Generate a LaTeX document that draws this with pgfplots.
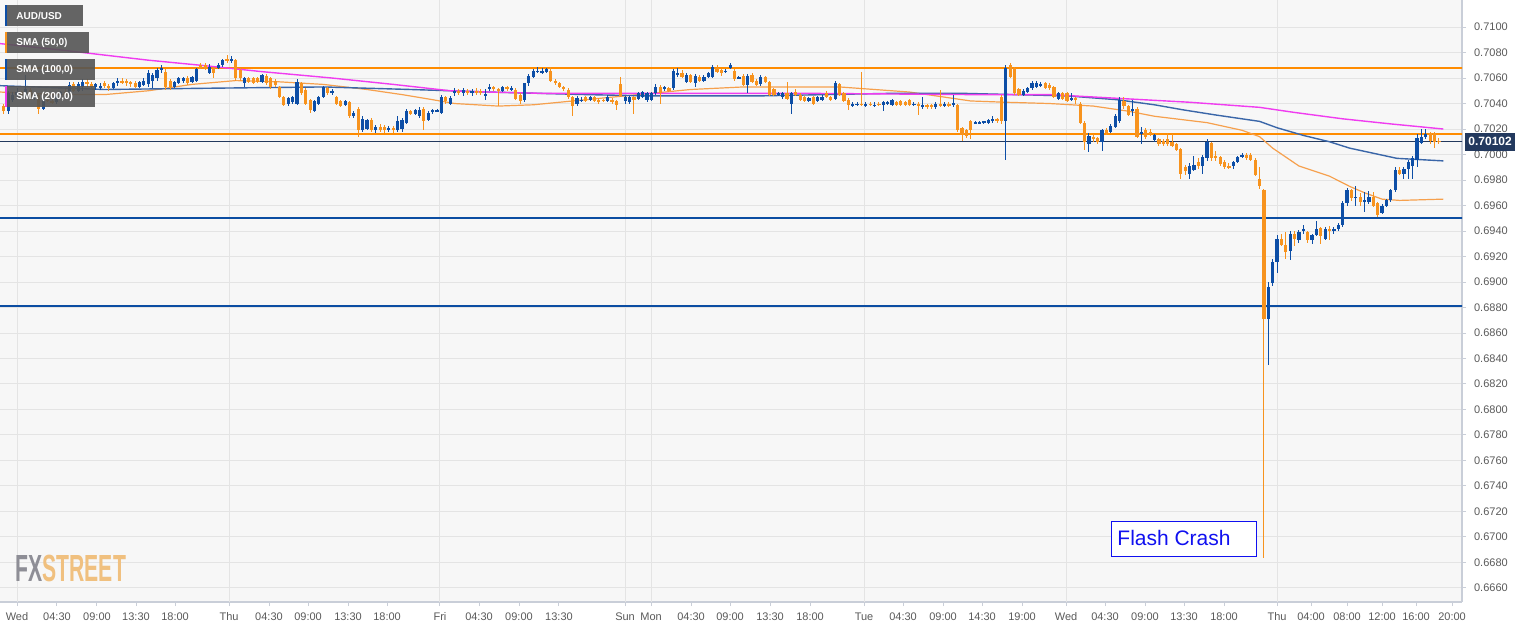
\documentclass[border=0pt]{standalone}
\usepackage{pgfplots}
\pgfplotsset{compat=1.18}
\usepackage{pgfplotstable}
\usepackage{fontspec}
\setmainfont{Liberation Sans}
\setsansfont{Liberation Sans}

\definecolor{upc}{HTML}{0D4EA6}
\definecolor{dnc}{HTML}{F7931E}
\definecolor{smafifty}{HTML}{F6A04D}
\definecolor{smahund}{HTML}{3A66A8}
\definecolor{smatwo}{HTML}{F03CF0}
\definecolor{lvlorange}{HTML}{FF8C00}
\definecolor{lvlblue}{HTML}{0B4DA2}
\definecolor{lastnavy}{HTML}{23395E}
\definecolor{gridc}{HTML}{E4E4E4}
\definecolor{plotbg}{HTML}{F7F7F7}
\definecolor{axisc}{HTML}{C9CED8}
\definecolor{labc}{HTML}{5A5A5A}
\definecolor{boxgrey}{HTML}{555555}
\definecolor{fxgrey}{HTML}{8E8E96}
\definecolor{fxorange}{HTML}{F0C07F}
\definecolor{fcblue}{HTML}{1010F0}

% 30-minute candles, x = trading hours from Wed 00:00
\pgfplotstableread{
x o h l c
-1.5 .7038 .7040 .7032 .7034
-1.0 .7034 .7050 .7032 .7048
-0.5 .7043 .7049 .7041 .7047
0.0 .7047 .7052 .7045 .7049
0.5 .7049 .7050 .7045 .7047
1.0 .7047 .7062 .7046 .7051
1.5 .7051 .7052 .7043 .7045
2.0 .7045 .7049 .7043 .7047
2.5 .7047 .7048 .7032 .7036
3.0 .7036 .7045 .7035 .7043
3.5 .7043 .7046 .7041 .7042
4.0 .7042 .7045 .7040 .7041
4.5 .7041 .7048 .7040 .7047
5.0 .7047 .7050 .7045 .7049
5.5 .7049 .7051 .7046 .7048
6.0 .7048 .7057 .7047 .7055
6.5 .7055 .7057 .7049 .7050
7.0 .7050 .7057 .7049 .7055
7.5 .7053 .7059 .7050 .7057
8.0 .7057 .7059 .7053 .7055
8.5 .7055 .7057 .7052 .7053
9.0 .7053 .7056 .7051 .7055
9.5 .7052 .7056 .7051 .7054
10.0 .7056 .7058 .7052 .7054
10.5 .7054 .7055 .7050 .7052
11.0 .7052 .7057 .7051 .7056
11.5 .7056 .7060 .7054 .7058
12.0 .7058 .7060 .7055 .7056
12.5 .7058 .7059 .7054 .7056
13.0 .7057 .7058 .7053 .7055
13.5 .7056 .7058 .7052 .7053
14.0 .7053 .7058 .7052 .7057
14.5 .7055 .7060 .7054 .7058
15.0 .7055 .7066 .7053 .7064
15.5 .7058 .7064 .7052 .7062
16.0 .7060 .7068 .7058 .7066
16.5 .7066 .7070 .7064 .7068
17.0 .7065 .7067 .7051 .7053
17.5 .7058 .7059 .7051 .7053
18.0 .7053 .7058 .7052 .7057
18.5 .7056 .7061 .7055 .7060
19.0 .7058 .7061 .7056 .7060
19.5 .7060 .7062 .7055 .7056
20.0 .7057 .7062 .7056 .7061
20.5 .7058 .7068 .7057 .7067
21.0 .7070 .7072 .7067 .7068
21.5 .7070 .7072 .7066 .7067
22.0 .7064 .7071 .7063 .7069
22.5 .7068 .7069 .7060 .7064
23.0 .7068 .7072 .7067 .7070
23.5 .7070 .7075 .7069 .7074
24.0 .7075 .7078 .7072 .7073
24.5 .7073 .7077 .7072 .7075
25.0 .7074 .7075 .7058 .7060
25.5 .7066 .7067 .7058 .7060
26.0 .7056 .7061 .7053 .7060
26.5 .7060 .7061 .7056 .7057
27.0 .7060 .7061 .7055 .7056
27.5 .7060 .7061 .7056 .7057
28.0 .7057 .7063 .7056 .7062
28.5 .7062 .7063 .7055 .7056
29.0 .7060 .7061 .7051 .7053
29.5 .7058 .7059 .7053 .7055
30.0 .7053 .7054 .7044 .7045
30.5 .7045 .7046 .7038 .7039
31.0 .7040 .7045 .7038 .7044
31.5 .7041 .7046 .7040 .7045
32.0 .7040 .7059 .7039 .7057
32.5 .7056 .7057 .7047 .7048
33.0 .7051 .7052 .7039 .7040
33.5 .7043 .7044 .7033 .7035
34.0 .7034 .7043 .7033 .7042
34.5 .7040 .7046 .7039 .7045
35.0 .7045 .7054 .7044 .7053
35.5 .7052 .7053 .7047 .7048
36.0 .7048 .7051 .7047 .7050
36.5 .7045 .7046 .7039 .7040
37.0 .7042 .7043 .7037 .7038
37.5 .7039 .7043 .7038 .7042
38.0 .7041 .7042 .7029 .7030
38.5 .7030 .7034 .7029 .7033
39.0 .7036 .7037 .7014 .7019
39.5 .7019 .7030 .7018 .7028
40.0 .7020 .7028 .7019 .7027
40.5 .7027 .7029 .7018 .7019
41.0 .7019 .7023 .7017 .7022
41.5 .7022 .7024 .7018 .7019
42.0 .7022 .7023 .7017 .7019
42.5 .7020 .7022 .7018 .7021
43.0 .7021 .7022 .7017 .7019
43.5 .7019 .7030 .7018 .7026
44.0 .7020 .7029 .7018 .7027
44.5 .7025 .7036 .7024 .7034
45.0 .7034 .7035 .7031 .7032
45.5 .7032 .7036 .7031 .7035
46.0 .7030 .7037 .7029 .7035
46.5 .7036 .7037 .7019 .7026
47.0 .7027 .7034 .7026 .7033
47.5 .7033 .7036 .7032 .7035
48.0 .7034 .7036 .7033 .7035
48.5 .7033 .7047 .7032 .7045
49.0 .7045 .7046 .7040 .7042
49.5 .7040 .7046 .7039 .7044
50.0 .7048 .7052 .7046 .7050
50.5 .7050 .7051 .7047 .7048
51.0 .7048 .7052 .7046 .7051
51.5 .7050 .7051 .7047 .7048
52.0 .7048 .7051 .7046 .7050
52.5 .7050 .7052 .7047 .7048
53.0 .7050 .7051 .7047 .7048
53.5 .7047 .7051 .7043 .7047
54.0 .7051 .7055 .7050 .7053
54.5 .7053 .7054 .7050 .7051
55.0 .7051 .7052 .7038 .7050
55.5 .7050 .7054 .7049 .7053
56.0 .7053 .7054 .7050 .7051
56.5 .7051 .7054 .7050 .7052
57.0 .7051 .7052 .7043 .7044
57.5 .7047 .7048 .7040 .7042
58.0 .7043 .7056 .7041 .7056
58.5 .7056 .7063 .7054 .7062
59.0 .7061 .7067 .7060 .7066
59.5 .7065 .7069 .7064 .7066
60.0 .7065 .7068 .7063 .7065
60.5 .7065 .7068 .7064 .7067
61.0 .7066 .7069 .7057 .7058
61.5 .7058 .7059 .7055 .7056
62.0 .7056 .7057 .7052 .7053
62.5 .7053 .7054 .7050 .7051
63.0 .7051 .7052 .7044 .7045
63.5 .7045 .7046 .7030 .7038
64.0 .7040 .7046 .7038 .7044
64.5 .7042 .7045 .7041 .7043
65.0 .7045 .7046 .7041 .7042
65.5 .7043 .7046 .7042 .7045
66.0 .7045 .7046 .7041 .7042
66.5 .7043 .7044 .7040 .7041
67.0 .7043 .7044 .7041 .7042
67.5 .7042 .7047 .7041 .7045
68.0 .7043 .7044 .7040 .7041
68.5 .7042 .7043 .7035 .7039
69.0 .7055 .7061 .7045 .7046
69.5 .7042 .7046 .7040 .7045
70.0 .7041 .7046 .7040 .7045
70.5 .7045 .7046 .7032 .7043
71.0 .7044 .7049 .7043 .7048
71.5 .7045 .7050 .7044 .7049
72.0 .7043 .7049 .7041 .7048
72.5 .7043 .7049 .7042 .7048
73.0 .7048 .7055 .7047 .7053
73.5 .7053 .7055 .7040 .7048
74.0 .7051 .7054 .7050 .7053
74.5 .7052 .7053 .7049 .7050
75.0 .7052 .7067 .7051 .7066
75.5 .7062 .7068 .7061 .7064
76.0 .7064 .7066 .7060 .7061
76.5 .7057 .7064 .7056 .7062
77.0 .7062 .7063 .7056 .7057
77.5 .7056 .7063 .7053 .7062
78.0 .7061 .7062 .7057 .7058
78.5 .7058 .7062 .7057 .7061
79.0 .7061 .7065 .7060 .7064
79.5 .7061 .7070 .7060 .7069
80.0 .7068 .7070 .7064 .7065
80.5 .7066 .7067 .7062 .7064
81.0 .7065 .7067 .7064 .7066
81.5 .7068 .7072 .7067 .7070
82.0 .7066 .7067 .7058 .7059
82.5 .7060 .7062 .7059 .7061
83.0 .7062 .7063 .7054 .7055
83.5 .7055 .7063 .7048 .7062
84.0 .7062 .7064 .7056 .7057
84.5 .7058 .7059 .7054 .7055
85.0 .7055 .7062 .7054 .7061
85.5 .7061 .7062 .7056 .7057
86.0 .7057 .7058 .7046 .7047
86.5 .7051 .7052 .7046 .7047
87.0 .7047 .7049 .7046 .7048
87.5 .7045 .7049 .7044 .7048
88.0 .7048 .7057 .7043 .7044
88.5 .7040 .7049 .7032 .7048
89.0 .7049 .7051 .7046 .7047
89.5 .7047 .7048 .7042 .7043
90.0 .7045 .7046 .7041 .7042
90.5 .7042 .7045 .7041 .7044
91.0 .7045 .7046 .7039 .7040
91.5 .7042 .7046 .7041 .7045
92.0 .7043 .7047 .7042 .7045
92.5 .7048 .7050 .7044 .7045
93.0 .7045 .7046 .7042 .7043
93.5 .7044 .7058 .7043 .7056
94.0 .7055 .7056 .7046 .7047
94.5 .7048 .7049 .7041 .7042
95.0 .7043 .7044 .7035 .7039
95.5 .7038 .7041 .7037 .7040
96.0 .7039 .7041 .7038 .7040
96.5 .7040 .7065 .7038 .7039
97.0 .7038 .7041 .7037 .7040
97.5 .7040 .7041 .7038 .7039
98.0 .7039 .7041 .7037 .7039
98.5 .7040 .7041 .7038 .7039
99.0 .7039 .7042 .7034 .7041
99.5 .7040 .7042 .7039 .7041
100.0 .7039 .7044 .7038 .7043
100.5 .7041 .7042 .7038 .7039
101.0 .7042 .7043 .7038 .7039
101.5 .7041 .7042 .7038 .7039
102.0 .7043 .7044 .7038 .7039
102.5 .7039 .7041 .7038 .7040
103.0 .7040 .7041 .7031 .7038
103.5 .7037 .7045 .7036 .7039
104.0 .7039 .7040 .7036 .7037
104.5 .7039 .7040 .7036 .7037
105.0 .7037 .7041 .7036 .7040
105.5 .7040 .7051 .7037 .7038
106.0 .7038 .7041 .7037 .7040
106.5 .7040 .7041 .7037 .7038
107.0 .7040 .7047 .7037 .7040
107.5 .7039 .7040 .7018 .7019
108.0 .7021 .7022 .7011 .7015
108.5 .7019 .7020 .7013 .7015
109.0 .7026 .7027 .7012 .7019
109.5 .7025 .7026 .7024 .7025
110.0 .7025 .7026 .7024 .7025
110.5 .7025 .7026 .7024 .7026
111.0 .7025 .7028 .7024 .7027
111.5 .7026 .7030 .7025 .7028
112.0 .7028 .7029 .7025 .7026
112.5 .7045 .7047 .7024 .7026
113.0 .7026 .7070 .6996 .7068
113.5 .7070 .7072 .7060 .7061
114.0 .7068 .7069 .7047 .7048
114.5 .7051 .7052 .7046 .7047
115.0 .7047 .7051 .7046 .7050
115.5 .7049 .7053 .7048 .7052
116.0 .7052 .7058 .7051 .7056
116.5 .7053 .7058 .7052 .7056
117.0 .7055 .7057 .7053 .7055
117.5 .7056 .7057 .7051 .7052
118.0 .7055 .7056 .7051 .7052
118.5 .7053 .7054 .7044 .7045
119.0 .7044 .7049 .7043 .7048
119.5 .7048 .7049 .7043 .7044
120.0 .7048 .7049 .7041 .7042
120.5 .7043 .7048 .7042 .7044
121.0 .7044 .7045 .7040 .7043
121.5 .7040 .7041 .7024 .7025
122.0 .7025 .7026 .7004 .7010
122.5 .7008 .7017 .7002 .7015
123.0 .7014 .7016 .7010 .7012
123.5 .7013 .7014 .7008 .7010
124.0 .7010 .7020 .7003 .7019
124.5 .7019 .7021 .7015 .7017
125.0 .7018 .7024 .7017 .7022
125.5 .7022 .7032 .7021 .7030
126.0 .7026 .7045 .7025 .7043
126.5 .7042 .7045 .7036 .7038
127.0 .7038 .7039 .7030 .7031
127.5 .7034 .7043 .7030 .7036
128.0 .7036 .7037 .7013 .7014
128.5 .7016 .7022 .7008 .7018
129.0 .7019 .7021 .7012 .7014
129.5 .7018 .7020 .7015 .7016
130.0 .7011 .7016 .7010 .7015
130.5 .7012 .7013 .7007 .7008
131.0 .7011 .7012 .7007 .7008
131.5 .7012 .7017 .7007 .7008
132.0 .7010 .7016 .7006 .7007
132.5 .7008 .7009 .7003 .7004
133.0 .7004 .7005 .6981 .6985
133.5 .6990 .6992 .6984 .6987
134.0 .6985 .6993 .6981 .6991
134.5 .6988 .6999 .6987 .6992
135.0 .6994 .6997 .6989 .6991
135.5 .6991 .7000 .6985 .6998
136.0 .6997 .7012 .6995 .7010
136.5 .7009 .7010 .6995 .6997
137.0 .6999 .7003 .6995 .6998
137.5 .6998 .6999 .6991 .6993
138.0 .6994 .6996 .6989 .6990
138.5 .6991 .6993 .6989 .6990
139.0 .6991 .6995 .6989 .6994
139.5 .6994 .6999 .6993 .6998
140.0 .6998 .7001 .6997 .7000
140.5 .7000 .7001 .6996 .6997
141.0 .7000 .7001 .6995 .6996
141.5 .6996 .6997 .6983 .6984
142.0 .6981 .6990 .6973 .6975
142.5 .6972 .6973 .66835 .6871
143.0 .6871 .6900 .6835 .6896
143.5 .6899 .6918 .6897 .6916
144.0 .6916 .6937 .6907 .6934
144.5 .6934 .6938 .6928 .6929
145.0 .6929 .6939 .6918 .6924
145.5 .6924 .6940 .6917 .6938
146.0 .6938 .6940 .6928 .6934
146.5 .6933 .6941 .6931 .6939
147.0 .6940 .6945 .6938 .6942
147.5 .6939 .6940 .6931 .6933
148.0 .6933 .6938 .6930 .6937
148.5 .6937 .6948 .6936 .6942
149.0 .6942 .6943 .6930 .6936
149.5 .6934 .6943 .6933 .6942
150.0 .6942 .6944 .6933 .6940
150.5 .6940 .6943 .6938 .6942
151.0 .6942 .6946 .6940 .6945
151.5 .6945 .6964 .6943 .6962
152.0 .6962 .6974 .6960 .6972
152.5 .6972 .6973 .6964 .6966
153.0 .6966 .6975 .6960 .6967
153.5 .6967 .6970 .6960 .6963
154.0 .6963 .6971 .6955 .6964
154.5 .6963 .6971 .6961 .6967
155.0 .6967 .6971 .6959 .6960
155.5 .6962 .6963 .6951 .6953
156.0 .6954 .6961 .6953 .6960
156.5 .6960 .6965 .6959 .6964
157.0 .6964 .6973 .6963 .6972
157.5 .6972 .6990 .6971 .6988
158.0 .6988 .6990 .6984 .6985
158.5 .6985 .6990 .6981 .6989
159.0 .6989 .6996 .6981 .6994
159.5 .6991 .6999 .6981 .6997
160.0 .6996 .7016 .6990 .7013
160.5 .7009 .7020 .7008 .7014
161.0 .7014 .7020 .7012 .7016
161.5 .7017 .7018 .7008 .7011
162.0 .7017 .7018 .7005 .7010
162.5 .7011 .7013 .7008 .70102
}\candles

\begin{document}
\begin{tikzpicture}
\path[use as bounding box, fill=white] (0,0) rectangle (767pt,313.5pt);
\begin{axis}[
    at={(0,12.5pt)}, anchor=south west,
    scale only axis, width=731pt, height=301pt,
    xmin=-1.943, xmax=165.14,
    ymin=0.6649, ymax=0.71212,
    clip mode=individual,
    axis background/.style={fill=plotbg},
    axis x line*=bottom, axis y line*=right,
    axis line style={axisc, line width=0.6pt},
    tick style={axisc, line width=0.5pt},
    tick align=outside, major tick length=2pt,
    ymajorgrids=true,
    grid style={gridc, line width=0.5pt},
    ytick={0.666,0.668,0.670,0.672,0.674,0.676,0.678,0.680,0.682,0.684,0.686,0.688,0.690,0.692,0.694,0.696,0.698,0.700,0.702,0.704,0.706,0.708,0.710},
    yticklabels={0.6660,0.6680,0.6700,0.6720,0.6740,0.6760,0.6780,0.6800,0.6820,0.6840,0.6860,0.6880,0.6900,0.6920,0.6940,0.6960,0.6980,0.7000,0.7020,0.7040,0.7060,0.7080,0.7100},
    yticklabel pos=right,
    xtick={4.57,9.14,13.6,18.06,28.8,33.26,37.83,42.29,52.8,57.37,61.94,77.03,81.49,86.06,90.63,101.26,105.83,110.29,114.86,124.34,128.91,133.37,137.94,147.89,152,156,159.89,164},
    xticklabels={04:30,09:00,13:30,18:00,04:30,09:00,13:30,18:00,04:30,09:00,13:30,04:30,09:00,13:30,18:00,04:30,09:00,14:30,19:00,04:30,09:00,13:30,18:00,04:00,08:00,12:00,16:00,20:00},
    extra x ticks={0,24.23,48.34,69.49,72.46,96.8,119.89,144},
    extra x tick labels={Wed,Thu,Fri,Sun,Mon,Tue,Wed,Thu},
    extra x tick style={grid=major},
    ticklabel style={font=\fontsize{5.5}{6}\selectfont, text=labc},
    yticklabel style={anchor=west, xshift=0.5pt},
    xticklabel style={yshift=0.3pt},
]
% horizontal levels
\addplot[lvlorange, line width=1.15pt] coordinates {(-2,0.7068) (166,0.7068)};
\addplot[lvlorange, line width=1.15pt] coordinates {(-2,0.7016) (166,0.7016)};
\addplot[lastnavy, line width=0.5pt] coordinates {(-2,0.70102) (166,0.70102)};
\addplot[lvlblue, line width=1.15pt] coordinates {(-2,0.6950) (166,0.6950)};
\addplot[lvlblue, line width=1.15pt] coordinates {(-2,0.6881) (166,0.6881)};

% moving averages
\addplot[smafifty, line width=0.6pt] coordinates {
(-1.94,.7049) (5,.7047) (10,.7047) (15,.7050) (20,.7055) (25,.7058) (30,.7057)
(35,.7055) (40,.7051) (44,.7047) (47.5,.7043) (50,.7040) (55,.7038) (59,.7039)
(65,.7043) (71,.7047) (77,.7051) (83,.7053) (94,.7053) (102,.7049) (109,.7042)
(113,.7041) (118,.7040) (123,.7038) (127,.7034) (130,.7030) (136,.7025) (140,.7019)
(142,.7014) (143.5,.7005) (146.5,.6991) (150,.6983) (152.3,.6975) (154,.6970)
(156,.6965) (158,.6964) (163,.6965)};
\addplot[smahund, line width=0.7pt] coordinates {
(-1.94,.7054) (10,.7051) (22,.7052) (35,.7053) (45,.7051) (54,.7049) (65,.7047)
(72,.7046) (85,.7046) (100,.7048) (108,.7048) (114,.7047) (120,.7046) (125.7,.7043)
(130,.7039) (133.3,.7035) (137,.7031) (142,.7026) (144,.7021) (147,.7015)
(150,.7010) (152.3,.7005) (155,.7001) (157.7,.6997) (163,.6995)};
\addplot[smatwo, line width=0.7pt] coordinates {
(-1.94,.7087) (5,.7082) (10,.7078) (15,.7074) (21,.7070) (28,.7065) (36,.7060)
(43,.7055) (49.5,.7050) (54,.7049) (60,.7048) (72,.7048) (90,.7048) (109,.7047)
(118,.7047) (126,.7044) (134,.7041) (142,.7037) (146,.7033) (151.5,.7028)
(157,.7024) (163,.7020)};

% candle wicks
\addplot[draw=none, mark=none,
  restrict expr to domain={\thisrow{c}-\thisrow{o}}{0:1},
  error bars/.cd, y dir=both, y explicit, error mark=none,
  error bar style={draw=upc, line width=0.5pt}]
  table[x=x, y expr={(\thisrow{h}+\thisrow{l})/2}, y error expr={(\thisrow{h}-\thisrow{l})/2}] {\candles};
\addplot[draw=none, mark=none,
  restrict expr to domain={\thisrow{c}-\thisrow{o}}{-1:-0.000001},
  error bars/.cd, y dir=both, y explicit, error mark=none,
  error bar style={draw=dnc, line width=0.5pt}]
  table[x=x, y expr={(\thisrow{h}+\thisrow{l})/2}, y error expr={(\thisrow{h}-\thisrow{l})/2}] {\candles};
% candle bodies
\addplot[draw=none, mark=none,
  restrict expr to domain={\thisrow{c}-\thisrow{o}}{0:1},
  error bars/.cd, y dir=both, y explicit, error mark=none,
  error bar style={draw=upc, line width=1.6pt}]
  table[x=x, y expr={(\thisrow{o}+\thisrow{c})/2}, y error expr={max(abs(\thisrow{c}-\thisrow{o})/2,0.00003)}] {\candles};
\addplot[draw=none, mark=none,
  restrict expr to domain={\thisrow{c}-\thisrow{o}}{-1:-0.000001},
  error bars/.cd, y dir=both, y explicit, error mark=none,
  error bar style={draw=dnc, line width=1.6pt}]
  table[x=x, y expr={(\thisrow{o}+\thisrow{c})/2}, y error expr={max(abs(\thisrow{c}-\thisrow{o})/2,0.00003)}] {\candles};

\coordinate (lastpx) at (axis cs:165.14,0.70102);
\end{axis}

% last price tag
\node[fill=lastnavy, text=white, font=\bfseries\fontsize{6}{7}\selectfont,
      anchor=west, inner xsep=1.5pt, inner ysep=0pt, minimum height=9pt]
      at ([xshift=1.5pt]lastpx) {0.70102};

% legend boxes
\fill[boxgrey, opacity=0.9] (2.5pt,300.5pt) rectangle (41.5pt,311pt);
\fill[upc] (2.5pt,300.5pt) rectangle (3.5pt,311pt);
\node[anchor=west, text=white, font=\bfseries\fontsize{5}{6}\selectfont, inner sep=0pt] at (8pt,305.75pt) {AUD/USD};
\fill[boxgrey, opacity=0.9] (2.5pt,287pt) rectangle (44.5pt,297.5pt);
\fill[dnc] (2.5pt,287pt) rectangle (3.5pt,297.5pt);
\node[anchor=west, text=white, font=\bfseries\fontsize{5}{6}\selectfont, inner sep=0pt] at (8pt,292.25pt) {SMA (50,0)};
\fill[boxgrey, opacity=0.9] (2.5pt,273.5pt) rectangle (47.5pt,284pt);
\fill[upc] (2.5pt,273.5pt) rectangle (3.5pt,284pt);
\node[anchor=west, text=white, font=\bfseries\fontsize{5}{6}\selectfont, inner sep=0pt] at (8pt,278.75pt) {SMA (100,0)};
\fill[boxgrey, opacity=0.9] (2.5pt,260pt) rectangle (47.5pt,270.5pt);
\fill[smatwo] (2.5pt,260pt) rectangle (3.5pt,270.5pt);
\node[anchor=west, text=white, font=\bfseries\fontsize{5}{6}\selectfont, inner sep=0pt] at (8pt,265.25pt) {SMA (200,0)};

% watermark
\node[anchor=south west, inner sep=0pt] at (7.5pt,22.5pt)
  {\scalebox{0.56}[1]{\bfseries\fontsize{18.9}{19}\selectfont\textcolor{fxgrey}{FX}\textcolor{fxorange}{STREET}}};

% annotation
\draw[fill=white, draw=fcblue, line width=0.5pt] (555.5pt,35.5pt) rectangle (628pt,53pt);
\node[anchor=west, text=fcblue, font=\fontsize{10.5}{12}\selectfont, inner sep=0pt] at (558.5pt,44.3pt) {Flash Crash};
\end{tikzpicture}
\end{document}
